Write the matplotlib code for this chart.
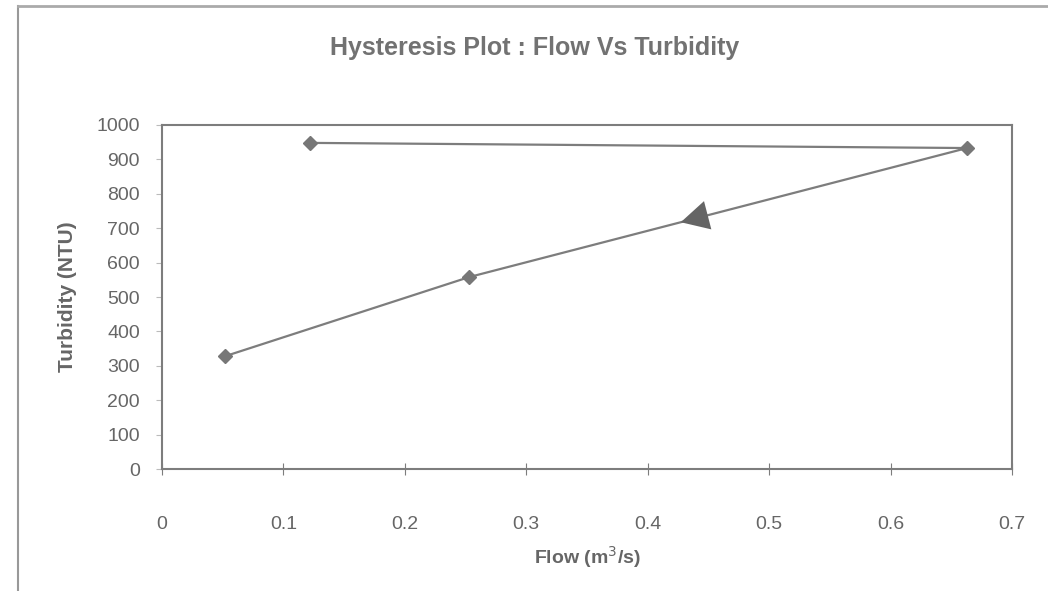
import matplotlib.pyplot as plt
from matplotlib.lines import Line2D

# hysteresis loop, in the order it was sampled
flow = [0.122, 0.663, 0.253, 0.052]
turbidity = [948, 933, 558, 328]

x_ticks = [0, 0.1, 0.2, 0.3, 0.4, 0.5, 0.6, 0.7]
y_ticks = [0, 100, 200, 300, 400, 500, 600, 700, 800, 900, 1000]

GREY = '#7d7d7d'
TEXT = '#666666'

plt.rcParams['font.family'] = ['Liberation Sans', 'DejaVu Sans']

fig = plt.figure(figsize=(10.48, 5.91), dpi=100)
ax = fig.add_axes([0.1546, 0.2064, 0.811, 0.5821])

ax.plot(flow, turbidity, color=GREY, linewidth=1.6, marker='D', markersize=7,
        markerfacecolor='#777777', markeredgecolor='#777777', zorder=3)

# direction arrow on the falling limb
f = 0.575
x0, y0 = flow[1], turbidity[1]
x1, y1 = flow[2], turbidity[2]
tip = (x0 + (x1 - x0) * f, y0 + (y1 - y0) * f)
tail = (x0 + (x1 - x0) * (f - 0.12), y0 + (y1 - y0) * (f - 0.12))
ax.annotate('', xy=tip, xytext=tail,
            arrowprops=dict(arrowstyle='-|>,head_length=2.0,head_width=1.05',
                            color='#656565', lw=0, shrinkA=0, shrinkB=0))

ax.set_xlim(0, 0.7)
ax.set_ylim(0, 1000)
ax.set_xticks(x_ticks)
ax.set_xticklabels([f'{t:g}' for t in x_ticks])
ax.set_yticks(y_ticks)
for s in ax.spines.values():
    s.set_color(GREY)
    s.set_linewidth(1.5)
ax.tick_params(axis='x', direction='inout', length=8, color=GREY, labelsize=14,
               labelcolor=TEXT, pad=30)
ax.tick_params(axis='y', direction='out', length=4, color='#bbbbbb', labelsize=14,
               labelcolor=TEXT, pad=12)

ax.set_xlabel('Flow (m$^3$/s)', fontsize=14, fontweight='bold', color=TEXT, labelpad=8)
ax.set_ylabel('Turbidity (NTU)', fontsize=15, fontweight='bold', color=TEXT, labelpad=14)
fig.text(0.51, 0.918, 'Hysteresis Plot : Flow Vs Turbidity', ha='center', va='center',
         fontsize=18, fontweight='bold', color='#727272')

# outer frame of the chart sheet
fig.add_artist(Line2D([0.017, 0.017], [0, 0.99], color='#999999', lw=1.5))
fig.add_artist(Line2D([0.017, 1.0], [0.99, 0.99], color='#aaaaaa', lw=2))

fig.savefig('out.png', dpi=100)
